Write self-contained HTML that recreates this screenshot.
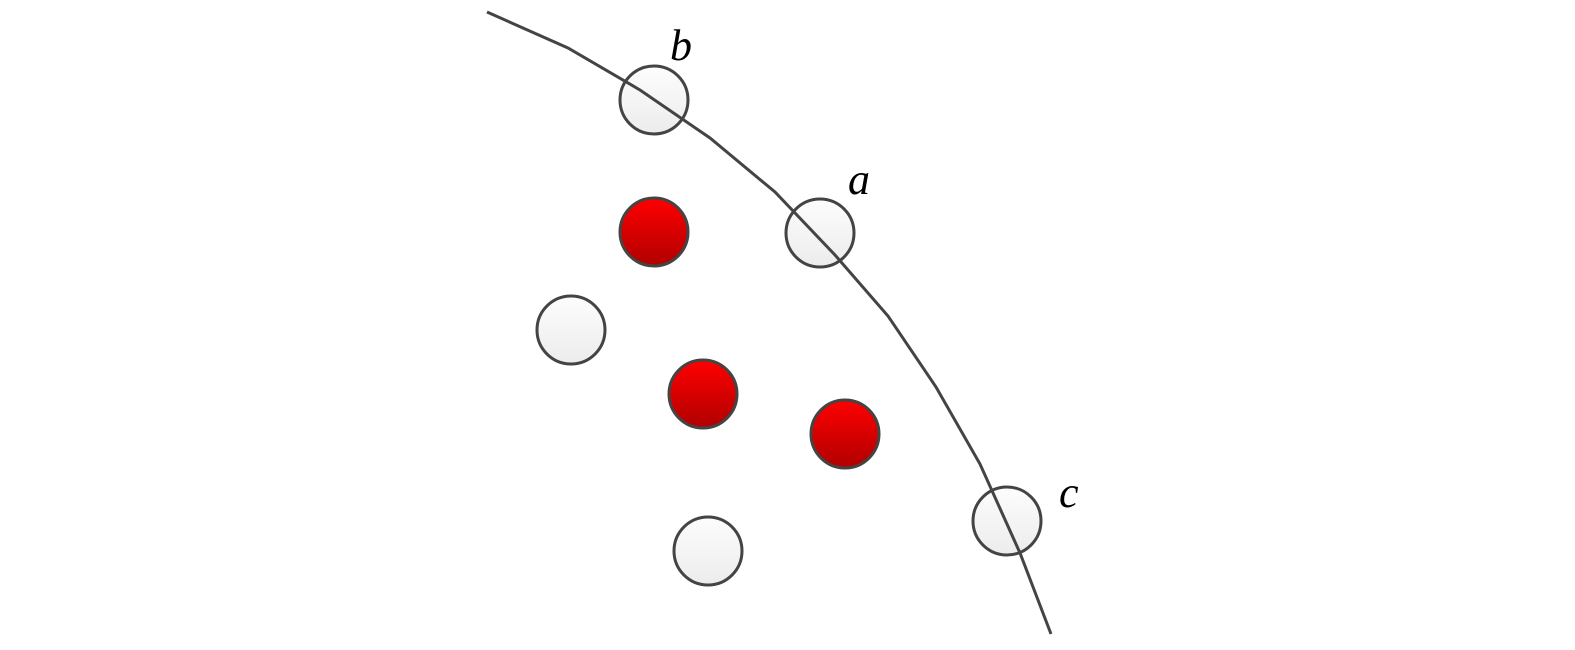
<!DOCTYPE html>
<html><head><meta charset="utf-8"><style>html,body{margin:0;padding:0;background:#fff}svg{display:block}</style></head>
<body>
<svg width="1575" height="650" viewBox="0 0 1575 650" xmlns="http://www.w3.org/2000/svg">
<defs>
<linearGradient id="w" x1="0" y1="0" x2="0" y2="1"><stop offset="0" stop-color="#fdfdfd"/><stop offset="1" stop-color="#ececec"/></linearGradient>
<linearGradient id="r" x1="0" y1="0" x2="0" y2="1"><stop offset="0" stop-color="#ff0000"/><stop offset="1" stop-color="#b00000"/></linearGradient>
</defs>
<g stroke="#444" stroke-width="3">
<circle cx="654" cy="100" r="34" fill="url(#w)"/>
<circle cx="820" cy="233" r="34" fill="url(#w)"/>
<circle cx="571" cy="330" r="34" fill="url(#w)"/>
<circle cx="708" cy="551" r="34" fill="url(#w)"/>
<circle cx="1007" cy="521" r="34" fill="url(#w)"/>
<circle cx="654" cy="232" r="34" fill="url(#r)"/>
<circle cx="703" cy="394" r="34" fill="url(#r)"/>
<circle cx="845" cy="434" r="34" fill="url(#r)"/>
</g>
<polyline fill="none" stroke="#444" stroke-width="3" points="487,12 568,48 640,90 710,138 775,192 835,255 888,316 936,387 980,464 1020,553 1051,634"/>
<g font-family="Liberation Serif, serif" font-style="italic" font-size="44" fill="#000">
<text x="670" y="60">b</text>
<text x="848" y="194">a</text>
<text x="1059" y="507">c</text>
</g>
</svg>
</body></html>
